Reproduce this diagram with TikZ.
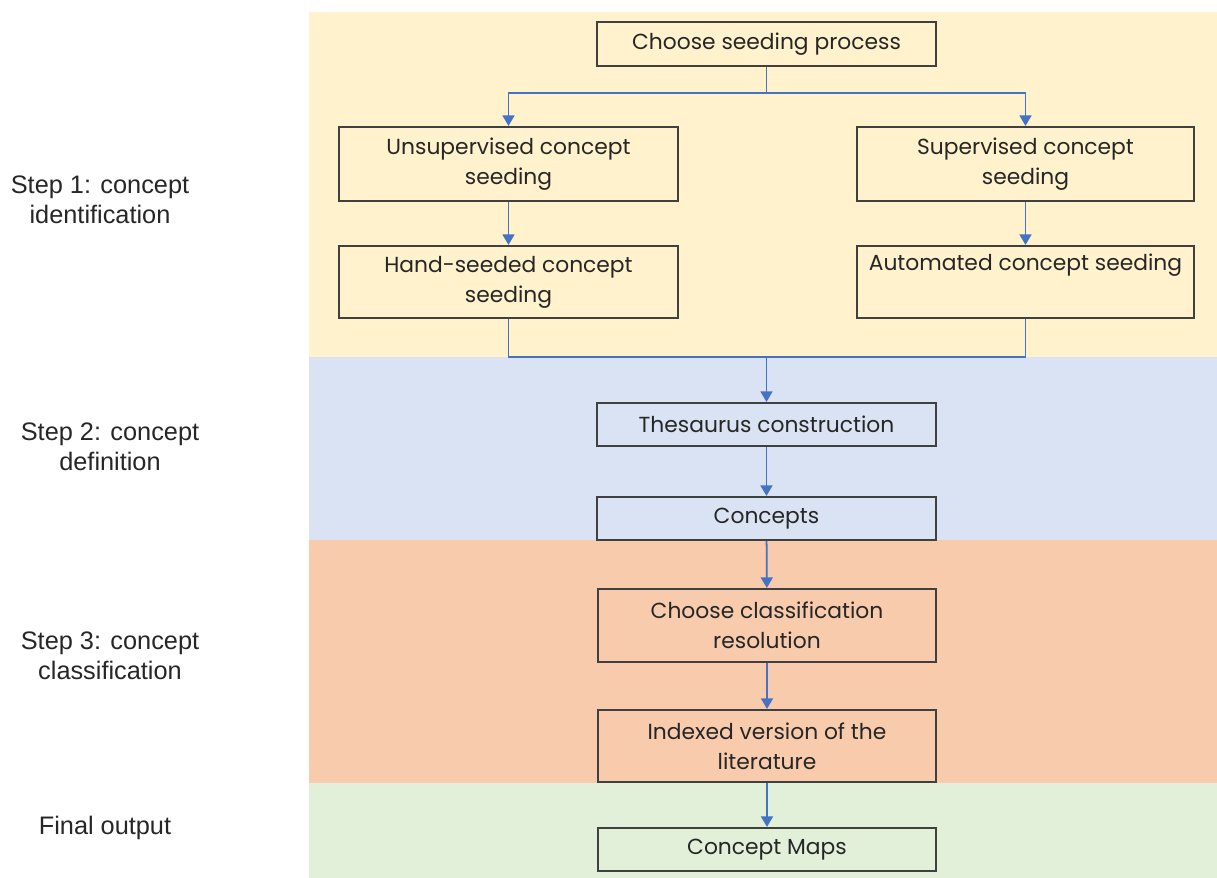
\documentclass[tikz,border=0pt]{standalone}
\usepackage{fontspec}
\setmainfont{Liberation Sans}
\newfontfamily\boxfont{Poppins}
\usetikzlibrary{arrows.meta}

\definecolor{bandyellow}{HTML}{FFF2CC}
\definecolor{bandblue}{HTML}{DAE3F3}
\definecolor{bandorange}{HTML}{F8CBAD}
\definecolor{bandgreen}{HTML}{E2F0D9}
\definecolor{flowblue}{HTML}{4472C4}

\begin{document}
\begin{tikzpicture}[x=0.01cm,y=-0.01cm,
  stepbox/.style={draw=black!75, line width=0.6pt, inner sep=0pt, align=center,
    text=black!85, font=\boxfont\fontsize{6.2}{8.5}\selectfont},
  steplabel/.style={align=center, text=black!85, font=\fontsize{7.2}{8.5}\selectfont},
  flow/.style={draw=flowblue, line width=0.5pt},
  flowtip/.style={flow, -{Triangle[length=3pt,width=3.4pt]}}]
\useasboundingbox (0,0) rectangle (1217,878);
% background bands
\fill[bandyellow] (309,12) rectangle (1217,357);
\fill[bandblue] (309,357) rectangle (1217,540);
\fill[bandorange] (309,540) rectangle (1217,783);
\fill[bandgreen] (309,783) rectangle (1217,878);

% step labels
\node[steplabel] (lab1) at (100,200) {Step 1: concept\\identification};
\node[steplabel] (lab2) at (110,447) {Step 2: concept\\definition};
\node[steplabel] (lab3) at (110,656) {Step 3: concept\\classification};
\node[steplabel] (lab4) at (105,828) {Final output};

% boxes
\node[stepbox, minimum width=3.39cm, minimum height=0.44cm] (choose) at (766.5,44) {Choose seeding process};
\node[stepbox, minimum width=3.39cm, minimum height=0.74cm] (unsup) at (508.5,164) {Unsupervised concept\\seeding};
\node[stepbox, minimum width=3.37cm, minimum height=0.74cm] (sup) at (1025.5,164) {Supervised concept\\seeding};
\node[stepbox, minimum width=3.39cm, minimum height=0.72cm] (hand) at (508.5,282) {Hand-seeded concept\\seeding};
\node[stepbox, minimum width=3.37cm, minimum height=0.72cm] (auto) at (1025.5,282) {Automated concept seeding\\\strut};
\node[stepbox, minimum width=3.39cm, minimum height=0.43cm] (thes) at (766.5,424.5) {Thesaurus construction};
\node[stepbox, minimum width=3.39cm, minimum height=0.43cm] (concepts) at (766.5,518.5) {Concepts};
\node[stepbox, minimum width=3.38cm, minimum height=0.73cm] (classres) at (767,625.5) {Choose classification\\resolution};
\node[stepbox, minimum width=3.38cm, minimum height=0.72cm] (indexed) at (767,746) {Indexed version of the\\literature};
\node[stepbox, minimum width=3.38cm, minimum height=0.43cm] (maps) at (767,849.5) {Concept Maps};

% connectors
\draw[flow] (choose.south) -- ++(0,26) coordinate (split);
\draw[flowtip] (split) -| (unsup.north);
\draw[flowtip] (split) -| (sup.north);
\draw[flowtip] (unsup) -- (hand);
\draw[flowtip] (sup) -- (auto);
\coordinate (join) at (766.5,357);
\draw[flow] (hand.south) |- (join) -| (auto.south);
\draw[flowtip] (join) -- (thes);
\draw[flowtip] (thes) -- (concepts);
\draw[flowtip] (concepts) -- (classres);
\draw[flowtip] (classres) -- (indexed);
\draw[flowtip] (indexed) -- (maps);
\end{tikzpicture}
\end{document}
